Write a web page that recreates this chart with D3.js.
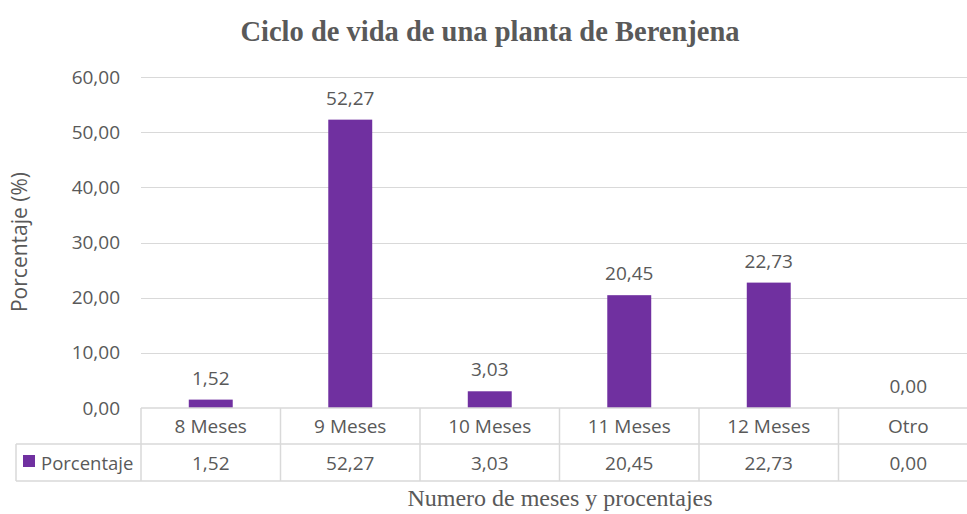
<!DOCTYPE html>
<meta charset="utf-8">
<style>
  body { margin: 0; background: #fff; }
  svg { display: block; }
  .sans { font-family: "Open Sans", "Liberation Sans", sans-serif; fill: #595959; }
  .serif { font-family: "Liberation Serif", "Times New Roman", serif; fill: #595959; }
  .grid line { stroke: #d9d9d9; stroke-width: 1; }
  .tbl line { stroke: #d9d9d9; stroke-width: 1.5; }
</style>
<body></body>
<script src="https://d3js.org/d3.v7.min.js"></script>
<script>

var categories = ["8 Meses", "9 Meses", "10 Meses", "11 Meses", "12 Meses", "Otro"];
var values = [1.52, 52.27, 3.03, 20.45, 22.73, 0.00];
var yTicks = [0, 10, 20, 30, 40, 50, 60];
var seriesName = "Porcentaje";

var W = 967, H = 514;
var plotLeft = 141, plotTop = 77, plotBottom = 408;
var bandW = 139.5;
var row1 = 408, row2 = 444, row3 = 481;
var barColor = "#7030a0";
var fs = "19px";

// comma as decimal separator
var loc = d3.formatLocale({decimal: ",", thousands: ".", grouping: [3], currency: ["", ""]});
var fmt = loc.format(".2f");

var svg = d3.select("body").append("svg")
    .attr("width", W)
    .attr("height", H);

var x = d3.scaleBand()
    .domain(categories)
    .range([plotLeft, plotLeft + bandW * categories.length])
    .padding(0);

var y = d3.scaleLinear()
    .domain([0, 60])
    .range([plotBottom, plotTop]);

// title
svg.append("text")
    .attr("class", "serif")
    .attr("x", 490).attr("y", 41)
    .attr("text-anchor", "middle")
    .style("font-size", "28.5px")
    .style("font-weight", "bold")
    .text("Ciclo de vida de una planta de Berenjena");

// gridlines
svg.append("g").attr("class", "grid")
  .selectAll("line")
  .data(yTicks.filter(function(d) { return d > 0; }))
  .enter().append("line")
    .attr("x1", plotLeft).attr("x2", W)
    .attr("y1", function(d) { return Math.round(y(d)) + 0.5; })
    .attr("y2", function(d) { return Math.round(y(d)) + 0.5; });

// y axis labels
var yaxis = d3.axisLeft(y).tickValues(yTicks).tickFormat(fmt).tickSize(0).tickPadding(21);
var yg = svg.append("g")
    .attr("transform", "translate(" + plotLeft + ",0)")
    .call(yaxis);
yg.select(".domain").remove();
yg.selectAll("text")
    .attr("class", "sans")
    .style("font-size", fs)
    .attr("fill", "#595959");

// y title
svg.append("text")
    .attr("class", "sans")
    .attr("transform", "translate(27,242) rotate(-90)")
    .attr("text-anchor", "middle")
    .style("font-size", "21px")
    .text("Porcentaje (%)");

// bars
var barW = bandW * 0.315;
svg.selectAll(".bar")
    .data(values)
    .enter().append("rect")
    .attr("class", "bar")
    .attr("x", function(d, i) { return x(categories[i]) + (bandW - barW) / 2; })
    .attr("y", function(d) { return y(d); })
    .attr("width", barW)
    .attr("height", function(d) { return plotBottom - y(d); })
    .attr("fill", barColor);

// data labels
svg.selectAll(".lbl")
    .data(values)
    .enter().append("text")
    .attr("class", "sans lbl")
    .attr("x", function(d, i) { return x(categories[i]) + bandW / 2; })
    .attr("y", function(d) { return y(d) - 15; })
    .attr("text-anchor", "middle")
    .style("font-size", fs)
    .text(function(d) { return fmt(d); });

// data table
var tbl = svg.append("g").attr("class", "tbl");
tbl.append("line").attr("x1", plotLeft).attr("x2", W).attr("y1", row1).attr("y2", row1);
tbl.append("line").attr("x1", 16).attr("x2", W).attr("y1", row2).attr("y2", row2);
tbl.append("line").attr("x1", 16).attr("x2", W).attr("y1", row3).attr("y2", row3);
tbl.append("line").attr("x1", 16).attr("x2", 16).attr("y1", row2).attr("y2", row3);
tbl.selectAll(".vline")
    .data(categories)
    .enter().append("line")
    .attr("class", "vline")
    .attr("x1", function(d) { return x(d); })
    .attr("x2", function(d) { return x(d); })
    .attr("y1", row1).attr("y2", row3);

svg.selectAll(".catlbl")
    .data(categories)
    .enter().append("text")
    .attr("class", "sans catlbl")
    .attr("x", function(d) { return x(d) + bandW / 2; })
    .attr("y", (row1 + row2) / 2 + 7)
    .attr("text-anchor", "middle")
    .style("font-size", fs)
    .text(function(d) { return d; });

svg.selectAll(".vallbl")
    .data(values)
    .enter().append("text")
    .attr("class", "sans vallbl")
    .attr("x", function(d, i) { return x(categories[i]) + bandW / 2; })
    .attr("y", (row2 + row3) / 2 + 7)
    .attr("text-anchor", "middle")
    .style("font-size", fs)
    .text(function(d) { return fmt(d); });

// legend key in table
svg.append("rect")
    .attr("x", 23).attr("y", 455)
    .attr("width", 12).attr("height", 12)
    .attr("fill", barColor);
svg.append("text")
    .attr("class", "sans")
    .attr("x", 41).attr("y", (row2 + row3) / 2 + 7)
    .style("font-size", "18.5px")
    .text(seriesName);

// x title
svg.append("text")
    .attr("class", "serif")
    .attr("x", 560).attr("y", 506)
    .attr("text-anchor", "middle")
    .style("font-size", "24px")
    .text("Numero de meses y procentajes");

</script>
